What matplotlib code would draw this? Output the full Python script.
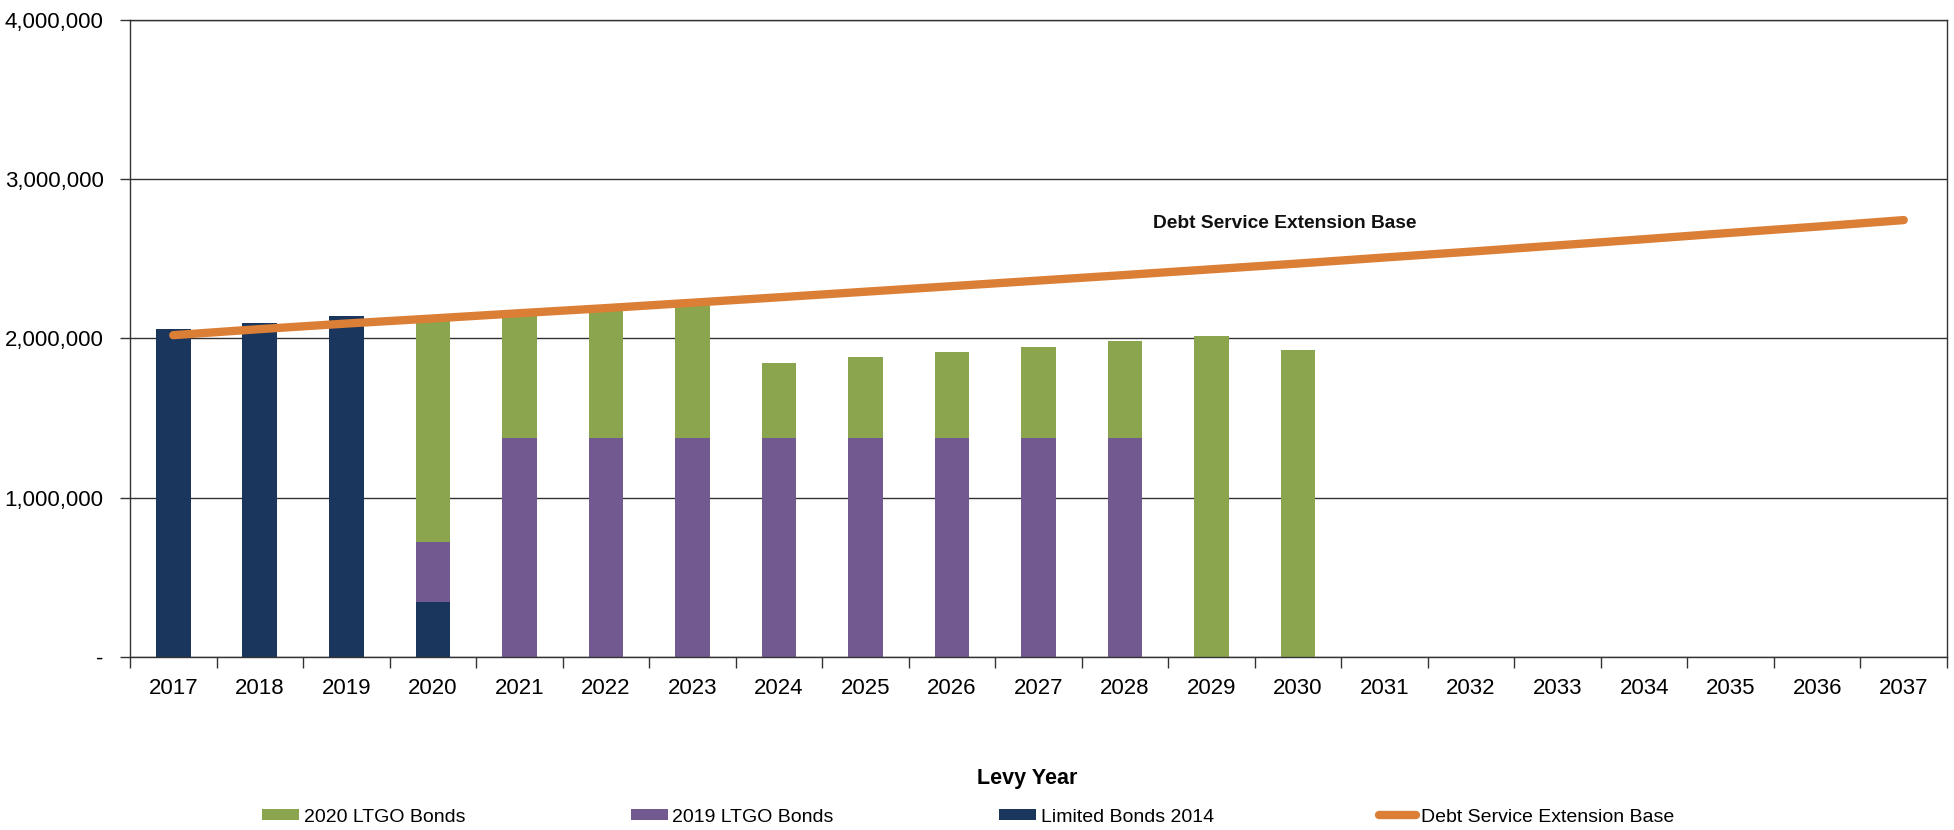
import numpy as np
import matplotlib
matplotlib.use("Agg")
import matplotlib.pyplot as plt
from matplotlib.ticker import FuncFormatter

plt.rcParams["font.family"] = ["Liberation Sans", "DejaVu Sans"]

years = [str(y) for y in range(2017, 2038)]

limited_2014 = [2057000, 2098000, 2142000, 342000] + [0] * 17
ltgo_2019 = [0, 0, 0, 379000] + [1376000] * 8 + [0] * 9
ltgo_2020 = [0, 0, 0, 1400000, 775000, 805000, 835000, 471000, 505000,
             536000, 569000, 605000, 2016000, 1925000] + [0] * 7
extension_base = [2020000, 2058000, 2093000, 2125000, 2158000, 2190000, 2224000,
                  2258000, 2293000, 2328000, 2363000, 2398000, 2434000, 2470000,
                  2508000, 2545000, 2584000, 2623000, 2663000, 2702000, 2743000]

c_green = "#8ba54e"
c_purple = "#72598f"
c_navy = "#1a365d"
c_orange = "#db7f36"

fig = plt.figure(figsize=(19.54, 8.30), dpi=100)
ax = fig.add_axes([130 / 1954, 1 - 656.7 / 830, 1817 / 1954, 636.7 / 830])

x = np.arange(len(years))
w = 0.4
b1 = np.array(limited_2014)
b2 = b1 + np.array(ltgo_2019)
ax.bar(x, limited_2014, w, color=c_navy, label="Limited Bonds 2014", zorder=2)
ax.bar(x, ltgo_2019, w, bottom=b1, color=c_purple, label="2019 LTGO Bonds", zorder=2)
ax.bar(x, ltgo_2020, w, bottom=b2, color=c_green, label="2020 LTGO Bonds", zorder=2)
ax.plot(x, extension_base, color=c_orange, lw=6, solid_capstyle="round",
        label="Debt Service Extension Base", zorder=3)

ax.text(12.85, 2724000, "Debt Service Extension Base", ha="center", va="center",
        fontsize=13.8, fontweight="bold", color="#111111")

ax.set_xlim(-0.5, len(years) - 0.5)
ax.set_ylim(0, 4000000)
ax.set_xticks(x)
ax.set_xticklabels(years)
ax.set_xticks(np.arange(-0.5, len(years), 1), minor=True)
ax.tick_params(axis="x", which="major", length=0, pad=15, labelsize=16)
ax.tick_params(axis="x", which="minor", length=8, width=1, color="#333333", direction="out")
ax.set_yticks(np.arange(0, 4000001, 1000000))
ax.yaxis.set_major_formatter(FuncFormatter(lambda v, p: "-" if v == 0 else f"{v:,.0f}"))
ax.tick_params(axis="y", length=7, width=1, color="#333333", pad=12, labelsize=16)

ax.grid(axis="y", color="#333333", lw=1)
ax.set_axisbelow(True)
for s in ax.spines.values():
    s.set_color("#333333")
    s.set_linewidth(1)

ax.set_xlabel("Levy Year", fontsize=15.5, fontweight="bold")
ax.xaxis.set_label_coords((1027 - 130) / 1817, (656.7 - 768) / 636.7)

h, l = ax.get_legend_handles_labels()
order = [3, 2, 1, 0]
fig.legend([h[i] for i in order], [l[i] for i in order], ncol=4, loc="center left",
           bbox_to_anchor=(262 / 1954, 1 - 817 / 830), frameon=False, fontsize=14,
           handlelength=1.9, handleheight=0.5, handletextpad=0.25, columnspacing=8.5,
           borderpad=0, borderaxespad=0)

fig.savefig("out.png", dpi=100)
